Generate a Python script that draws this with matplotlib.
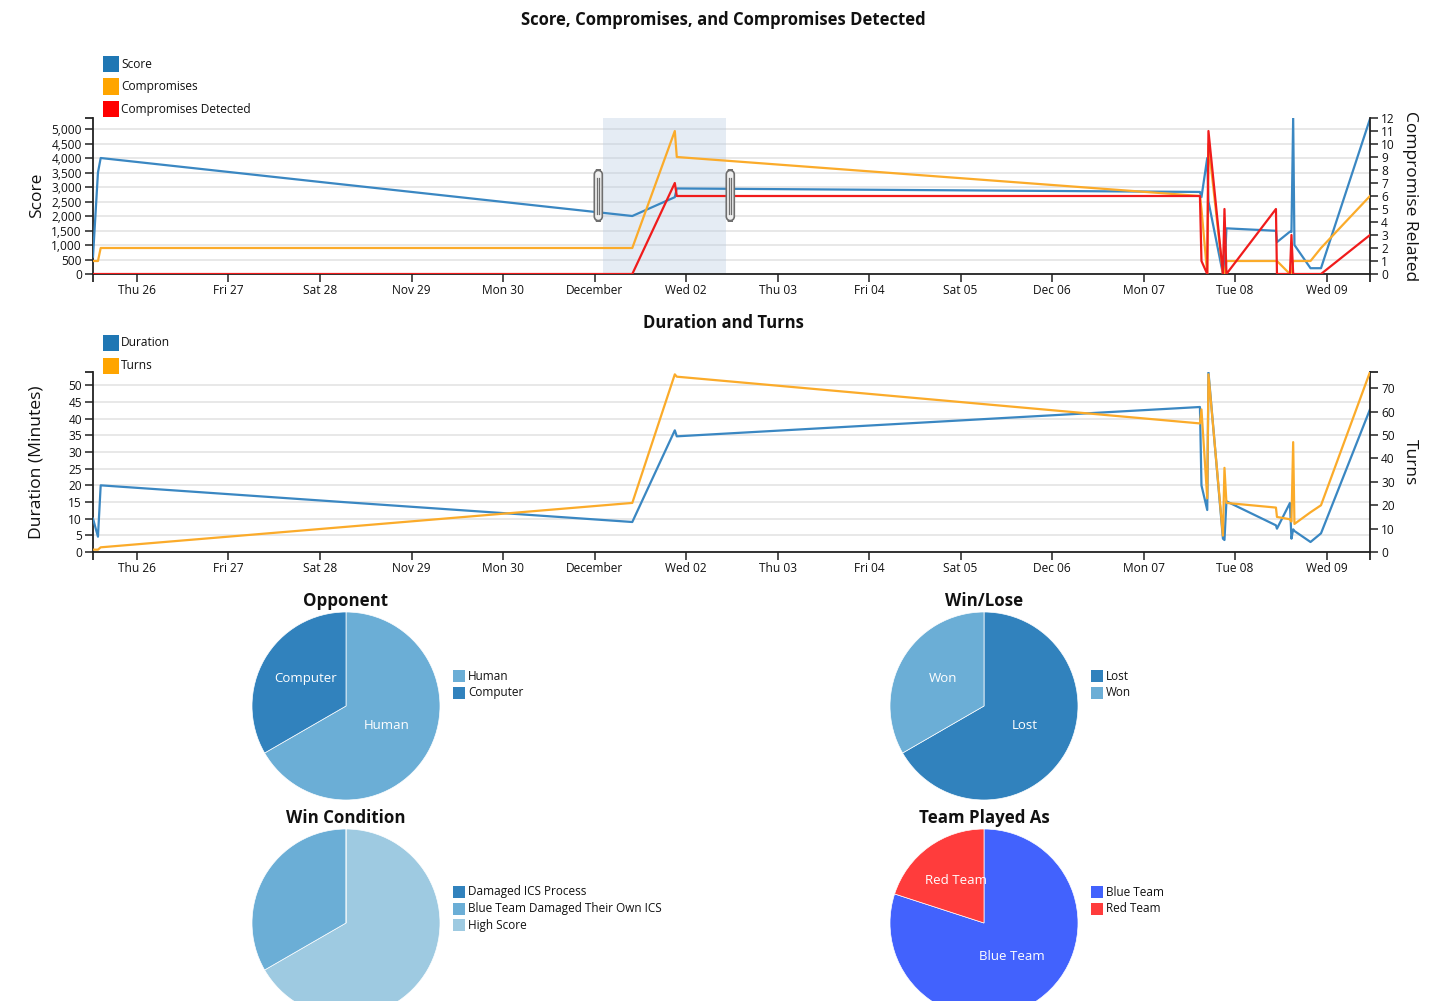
import math
import matplotlib
matplotlib.use('Agg')
import matplotlib.pyplot as plt
import matplotlib.dates as mdates
from matplotlib.patches import Rectangle, FancyBboxPatch
from matplotlib.lines import Line2D
import pandas as pd

plt.rcParams['font.family'] = ['Open Sans', 'DejaVu Sans']

# ---------------- data ----------------
game_times = pd.to_datetime([
    '2020-11-25 12:28', '2020-11-25 13:46', '2020-11-25 14:29',
    '2020-12-01 09:54', '2020-12-01 21:03', '2020-12-01 21:34',
    '2020-12-07 14:46', '2020-12-07 15:10', '2020-12-07 16:41',
    '2020-12-07 17:00', '2020-12-07 20:48', '2020-12-07 21:12',
    '2020-12-07 21:43', '2020-12-08 10:42', '2020-12-08 10:58',
    '2020-12-08 14:22', '2020-12-08 14:46', '2020-12-08 15:13',
    '2020-12-08 15:33', '2020-12-08 19:46', '2020-12-08 22:31',
    '2020-12-09 11:22'])
score = [600, 3500, 4000, 2000, 2650, 2950, 2830, 2650, 4000, 2500, 0, 0,
         1575, 1490, 1100, 1460, 1450, 5380, 1000, 200, 200, 5350]
compromises = [1, 1, 2, 2, 11, 9, 6, 5, 0, 10, 0, 0, 1, 1, 1, 0, 0, 1, 1, 1, 2, 6]
compromises_detected = [0, 0, 0, 0, 7, 6, 6, 1, 0, 11, 0, 5, 0, 5, 0, 0, 3, 0, 0, 0, 0, 3]
duration = [10, 4.6, 20, 9, 36.5, 34.7, 43.5, 20, 12.6, 54, 4, 3.6, 15.2, 8, 7,
            14.7, 4, 6.8, 6.3, 3, 5.6, 42.8]
turns = [1, 1, 2, 21, 76, 75, 55, 61, 23, 76, 7, 36, 21, 19, 15, 14, 13, 47, 12, 17, 20, 77]

tick_dates = pd.date_range('2020-11-26', '2020-12-09', freq='D')
tick_labels = ['Thu 26', 'Fri 27', 'Sat 28', 'Nov 29', 'Mon 30', 'December', 'Wed 02',
               'Thu 03', 'Fri 04', 'Sat 05', 'Dec 06', 'Mon 07', 'Tue 08', 'Wed 09']

brush_start = pd.Timestamp('2020-12-01 02:10')
brush_end = pd.Timestamp('2020-12-02 10:25')

opponent_labels = ['Human', 'Computer']
opponent_values = [2, 1]
winlose_labels = ['Lost', 'Won']
winlose_values = [2, 1]
wincond_labels = ['Damaged ICS Process', 'Blue Team Damaged Their Own ICS', 'High Score']
wincond_values = [0, 1, 2]
team_labels = ['Blue Team', 'Red Team']
team_values = [4, 1]

# ---------------- styles ----------------
C_SCORE, C_COMP, C_DET = '#3a87c2', '#fbab2a', '#f01c1c'
L_SCORE, L_COMP, L_DET = '#1f77b4', '#ffa500', '#ff0000'
C_TEXT = '#111111'
W, H = 1431, 1001
TICK_FS = 8.6
LEG_FS = 8.6

fig = plt.figure(figsize=(W / 100, H / 100), dpi=100)


def frac(left, top, right, bottom):
    return [left / W, 1 - bottom / H, (right - left) / W, (bottom - top) / H]


def fx(x):
    return x / W


def fy(y):
    return 1 - y / H


def style_axes(ax, axr):
    for a in (ax, axr):
        a.spines['top'].set_visible(False)
        for s in ('left', 'right', 'bottom'):
            a.spines[s].set_color('#222222')
            a.spines[s].set_linewidth(1.3)
        a.tick_params(length=6, width=1.1, pad=2, labelsize=TICK_FS, colors='#222222',
                      labelcolor=C_TEXT)
        a.tick_params(which='minor', length=6, width=1.1)
    ax.tick_params(axis='x', pad=1)
    ax.spines['right'].set_visible(False)
    axr.spines['left'].set_visible(False)
    axr.spines['bottom'].set_visible(False)
    ax.grid(axis='y', color='#e6e6e6', linewidth=1.3)
    ax.set_axisbelow(True)
    ax.set_xticks(mdates.date2num(tick_dates))
    ax.set_xticklabels(tick_labels)
    xs = mdates.date2num(game_times)
    ax.set_xlim(xs.min(), xs.max())
    ax.set_xticks([xs.min(), xs.max()], minor=True)


def legend_block(items, x, y0, dy, size, fs):
    for i, (lab, col) in enumerate(items):
        yc = y0 + i * dy
        fig.add_artist(Rectangle((fx(x), fy(yc + size / 2)), size / W, size / H,
                                 transform=fig.transFigure, color=col, lw=0))
        fig.text(fx(x + size + 2), fy(yc), lab, fontsize=fs, va='center', ha='left',
                 color=C_TEXT)


# ---------------- top chart ----------------
ax1 = fig.add_axes(frac(93, 118, 1370, 274))
ax1r = ax1.twinx()
style_axes(ax1, ax1r)
ax1.plot(game_times, score, color=C_SCORE, lw=1.6, zorder=3)
ax1r.plot(game_times, compromises, color=C_COMP, lw=1.6, zorder=3)
ax1r.plot(game_times, compromises_detected, color=C_DET, lw=1.6, zorder=4)
ax1.set_ylim(0, max(score))
ax1.set_yticks(range(0, 5001, 500))
ax1.set_yticklabels([f'{v:,}' for v in range(0, 5001, 500)])
ax1.set_yticks([max(score)], minor=True)
ax1r.set_ylim(0, 12)
ax1r.set_yticks(range(0, 13))
ax1r.set_yticks([12], minor=True)
xs = mdates.date2num(game_times)
ax1.set_xlim(xs.min(), xs.max())

# brush
b0, b1 = mdates.date2num(brush_start), mdates.date2num(brush_end)
ax1.axvspan(b0, b1, color='#b7c9e2', alpha=0.35, lw=0, zorder=1)
inv = fig.transFigure.inverted()
for bx, side in ((b0, -1), (b1, 1)):
    px = inv.transform(ax1.transData.transform((bx, 0)))[0] * W
    hw = 9
    left = px - hw if side < 0 else px
    box = FancyBboxPatch((fx(left + 0.5), fy(221)), (hw - 1) / W, 51 / H,
                         boxstyle='round,pad=0,rounding_size=0.0045',
                         transform=fig.transFigure, facecolor='#f0f0f0',
                         edgecolor='#6f6f6f', lw=1.2, zorder=10)
    fig.add_artist(box)
    for off in (3.5, 5.5):
        fig.add_artist(Line2D([fx(left + off), fx(left + off)], [fy(178), fy(214)],
                              transform=fig.transFigure, color='#6f6f6f', lw=0.9, zorder=11))

fig.text(fx(723), fy(20), 'Score, Compromises, and Compromises Detected', fontsize=12,
         fontweight='bold', ha='center', va='center', color=C_TEXT)
fig.text(fx(37), fy(195), 'Score', fontsize=12.5, rotation=90, ha='center', va='center',
         color=C_TEXT)
fig.text(fx(1410), fy(196), 'Compromise Related', fontsize=12.5, rotation=270, ha='center',
         va='center', color=C_TEXT)
legend_block([('Score', L_SCORE), ('Compromises', L_COMP), ('Compromises Detected', L_DET)],
             103, 64, 22.5, 16, LEG_FS)

# ---------------- middle chart ----------------
ax2 = fig.add_axes(frac(93, 372, 1370, 552))
ax2r = ax2.twinx()
style_axes(ax2, ax2r)
ax2.plot(game_times, duration, color=C_SCORE, lw=1.6, zorder=3)
ax2r.plot(game_times, turns, color=C_COMP, lw=1.6, zorder=3)
ax2.set_ylim(0, max(duration))
ax2.set_yticks(range(0, 51, 5))
ax2.set_yticks([max(duration)], minor=True)
ax2r.set_ylim(0, max(turns))
ax2r.set_yticks(range(0, 71, 10))
ax2r.set_yticks([max(turns)], minor=True)
ax2.set_xlim(xs.min(), xs.max())

fig.text(fx(723), fy(323), 'Duration and Turns', fontsize=12, fontweight='bold',
         ha='center', va='center', color=C_TEXT)
fig.text(fx(37), fy(462), 'Duration (Minutes)', fontsize=12.6, rotation=90, ha='center',
         va='center', color=C_TEXT)
fig.text(fx(1410), fy(462), 'Turns', fontsize=12.5, rotation=270, ha='center', va='center',
         color=C_TEXT)
legend_block([('Duration', L_SCORE), ('Turns', L_COMP)], 103, 343, 22.5, 16, LEG_FS)


# ---------------- pies ----------------
def pie(cx, cy, title, labels, values, colors, legend_y, show_labels=True):
    r = 94
    ax = fig.add_axes(frac(cx - r, cy - r, cx + r, cy + r))
    order = sorted(range(len(values)), key=lambda i: -values[i])
    vals = [values[i] for i in order]
    cols = [colors[i] for i in order]
    labs = [labels[i] for i in order]
    wedges, _ = ax.pie(vals, colors=cols, startangle=90, counterclock=False,
                       wedgeprops=dict(edgecolor='white', linewidth=0.5))
    ax.set_xlim(-1, 1)
    ax.set_ylim(-1, 1)
    ax.set_aspect('equal')
    if show_labels:
        for w, lab, v in zip(wedges, labs, vals):
            if v <= 0:
                continue
            ang = math.radians((w.theta1 + w.theta2) / 2)
            ax.text(0.5 * math.cos(ang), 0.5 * math.sin(ang) + 0.045, lab, color='white',
                    fontsize=9.5, ha='center', va='center')
    fig.text(fx(cx), fy(cy - r - 11), title, fontsize=12.2, fontweight='bold',
             ha='center', va='center', color=C_TEXT)
    lx = cx + r + 13
    for i, (lab, col) in enumerate(zip(labels, colors)):
        yc = legend_y + i * 16.5
        fig.add_artist(Rectangle((fx(lx), fy(yc + 6)), 12 / W, 12 / H,
                                 transform=fig.transFigure, color=col, lw=0))
        fig.text(fx(lx + 15), fy(yc), lab, fontsize=8.5, va='center', ha='left',
                 color=C_TEXT)


pie(346, 706, 'Opponent', opponent_labels, opponent_values, ['#6baed6', '#3182bd'], 676)
pie(984, 706, 'Win/Lose', winlose_labels, winlose_values, ['#3182bd', '#6baed6'], 676)
pie(346, 923, 'Win Condition', wincond_labels, wincond_values,
    ['#3182bd', '#6baed6', '#9ecae1'], 892, show_labels=False)
pie(984, 923, 'Team Played As', team_labels, team_values, ['#4262fd', '#ff3c3c'], 892)

fig.savefig('out.png', dpi=100)
